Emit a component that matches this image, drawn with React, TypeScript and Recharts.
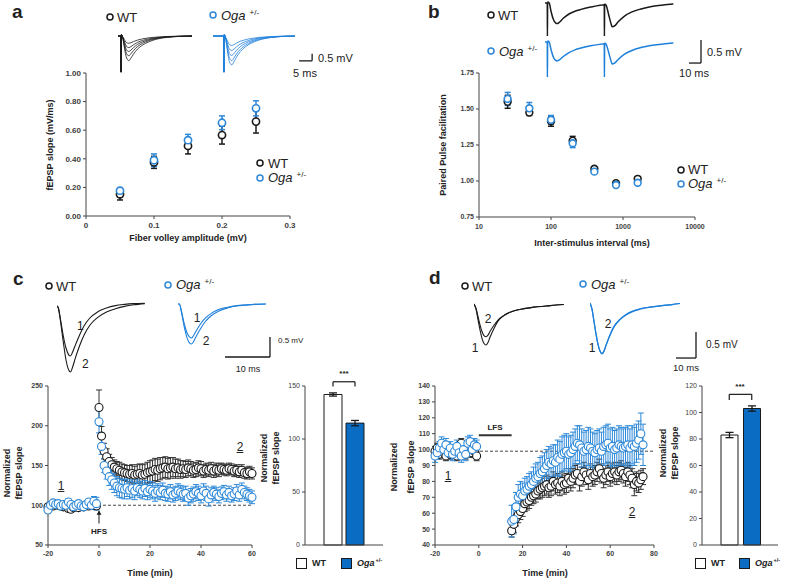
import React from 'react';
import {
  ScatterChart, Scatter, LineChart, Line, BarChart, Bar, Cell,
  XAxis, YAxis, ErrorBar, ReferenceLine,
} from 'recharts';

const FONT = '"Liberation Sans", Arial, sans-serif';
const BLACK = '#1a1a1a';
const BLUE = '#2d88d8';
const TRACE_BLUE = '#1f80da';
const BAR_BLUE = '#0b6cc3';
const AXIS = '#444';
const TICK = '#404040';
const TXT = '#222';

// ---------- Panel a: input/output ----------
const fvAmp = [0.05, 0.1, 0.15, 0.2, 0.25];
const slopeWT = [0.152, 0.375, 0.49, 0.566, 0.66];
const slopeWTErr = [0.04, 0.042, 0.056, 0.063, 0.08];
const slopeOga = [0.177, 0.39, 0.53, 0.652, 0.753];
const slopeOgaErr = [0.017, 0.044, 0.041, 0.048, 0.053];
const slopeXTicks = [0, 0.1, 0.2, 0.3];
const slopeYTicks = [0, 0.2, 0.4, 0.6, 0.8, 1.0];

// ---------- Panel b: paired pulse ----------
const isi = [25, 50, 100, 200, 400, 800, 1600];
const ppfWT = [1.55, 1.475, 1.415, 1.28, 1.085, 0.985, 1.015];
const ppfWTErr = [0.045, 0.02, 0.035, 0.03, 0.012, 0.01, 0.01];
const ppfOga = [1.57, 1.505, 1.425, 1.262, 1.065, 0.972, 0.988];
const ppfOgaErr = [0.045, 0.04, 0.03, 0.03, 0.012, 0.01, 0.01];
const isiTicks = [10, 100, 1000, 10000];
const ppfTicks = [0.75, 1.0, 1.25, 1.5, 1.75];

// ---------- Panel c: LTP ----------
const cBaseStart = -20;
const cPostStart = 0;
const cWTBase = [98, 100, 99, 101, 100, 99, 98, 100, 96, 95, 97, 98, 97, 99, 98, 100, 99, 101, 100, 99];
const cWTBaseErr = [3, 3, 3, 3, 3, 3, 3, 3, 3, 3, 3, 3, 3, 3, 3, 3, 3, 3, 3, 3];
const cOgaBase = [94, 100, 103, 101, 102, 99, 101, 100, 104, 101, 98, 100, 102, 99, 98, 101, 104, 100, 105, 102];
const cOgaBaseErr = [4, 4, 4, 4, 4, 4, 4, 4, 4, 4, 4, 4, 4, 4, 4, 4, 4, 5, 6, 8];
const cWTPost = [223, 187, 168, 161, 155, 151, 148, 146, 144, 142, 141, 140, 139, 140, 138, 139, 140, 138, 139, 141, 142, 143, 145, 144, 146, 147, 148, 146, 147, 148, 146, 147, 145, 146, 145, 147, 146, 144, 145, 147, 146, 143, 145, 144, 146, 143, 145, 144, 146, 145, 144, 146, 145, 143, 144, 142, 144, 141, 140, 142, 140];
const cWTPostErr = [22, 12, 10, 10, 9, 9, 9, 9, 10, 10, 10, 10, 11, 11, 11, 12, 12, 13, 13, 13, 14, 14, 14, 14, 14, 13, 13, 13, 13, 12, 12, 11, 11, 10, 10, 10, 9, 9, 9, 9, 9, 8, 8, 8, 8, 8, 8, 8, 7, 7, 7, 7, 7, 7, 7, 7, 7, 7, 7, 7, 7];
const cOgaPost = [205, 174, 150, 143, 136, 132, 128, 124, 122, 121, 120, 122, 119, 121, 118, 122, 120, 118, 121, 117, 120, 118, 115, 118, 116, 119, 115, 114, 117, 113, 115, 118, 116, 114, 115, 109, 112, 114, 117, 115, 112, 118, 115, 108, 113, 116, 114, 111, 115, 117, 113, 116, 112, 114, 118, 113, 120, 116, 114, 112, 110];
const cOgaPostErr = [14, 10, 9, 10, 11, 12, 12, 12, 12, 12, 12, 11, 11, 11, 11, 10, 10, 10, 10, 10, 10, 10, 10, 9, 9, 9, 9, 9, 9, 9, 9, 9, 9, 9, 9, 9, 9, 9, 9, 9, 9, 9, 9, 9, 9, 8, 8, 8, 8, 8, 8, 8, 8, 8, 8, 8, 8, 8, 8, 8, 8];
const cXTicks = [-20, 0, 20, 40, 60];
const cYTicks = [50, 100, 150, 200, 250];

// ---------- Panel d: LTD ----------
const dBaseStart = -20;
const dPostStart = 15;
const dWTBase = [99, 101, 97, 100, 98, 96, 100, 97, 99, 98, 96, 101, 104, 99, 97, 100, 103, 98, 99, 96];
const dWTBaseErr = [3, 3, 3, 3, 3, 3, 3, 3, 3, 3, 3, 3, 3, 3, 3, 3, 3, 3, 3, 3];
const dOgaBase = [96, 98, 101, 104, 100, 103, 98, 101, 97, 99, 102, 98, 96, 100, 97, 104, 105, 100, 103, 102];
const dOgaBaseErr = [4, 4, 4, 4, 4, 4, 4, 4, 4, 4, 4, 4, 4, 4, 4, 4, 4, 4, 4, 4];
const dWTPost = [49, 53, 57, 59, 61, 63, 66, 67, 68, 70, 71, 72, 74, 75, 76, 77, 78, 76, 77, 80, 78, 79, 77, 80, 78, 79, 82, 80, 82, 84, 85, 80, 83, 86, 84, 81, 85, 83, 84, 86, 88, 85, 82, 84, 86, 83, 85, 86, 84, 86, 87, 85, 83, 86, 84, 82, 78, 80, 79, 81, 83];
const dWTPostErr = [4, 5, 5, 5, 5, 5, 5, 5, 5, 5, 5, 5, 5, 6, 6, 6, 6, 6, 6, 6, 6, 6, 6, 6, 6, 6, 6, 6, 6, 6, 6, 6, 6, 6, 6, 6, 6, 6, 6, 6, 6, 6, 6, 6, 6, 6, 6, 6, 6, 6, 6, 6, 6, 6, 6, 6, 7, 6, 6, 6, 5];
const dOgaPost = [55, 56, 64, 70, 72, 71, 74, 75, 77, 78, 80, 82, 83, 85, 86, 88, 90, 92, 91, 93, 92, 95, 94, 97, 98, 99, 97, 98, 100, 102, 104, 103, 101, 99, 100, 102, 101, 99, 98, 100, 101, 99, 102, 103, 104, 101, 102, 100, 101, 103, 102, 101, 102, 103, 101, 103, 102, 104, 106, 110, 103];
const dOgaPostErr = [10, 9, 9, 8, 8, 8, 8, 8, 8, 8, 9, 9, 9, 10, 10, 10, 10, 10, 10, 10, 11, 11, 11, 11, 11, 11, 11, 11, 11, 11, 11, 12, 12, 12, 12, 12, 12, 12, 12, 12, 12, 12, 12, 12, 12, 12, 12, 12, 12, 12, 12, 12, 12, 12, 12, 12, 12, 12, 12, 13, 13];
const dXTicks = [-20, 0, 20, 40, 60, 80];
const dYTicks = [40, 50, 60, 70, 80, 90, 100, 110, 120, 130, 140];

// ---------- Bar summaries ----------
const groups = ['WT', 'Oga+/-'];
const barCVals = [142, 115];
const barCErr = [1.5, 2.5];
const barDVals = [83, 103];
const barDErr = [2, 2];
const barCTicks = [0, 50, 100, 150];
const barDTicks = [0, 20, 40, 60, 80, 100, 120];

// ---------- Example traces (ms, mV) ----------
const traceATime = [-3, 1.1, 1.2, 1.3, 1.8, 2.4, 3.0, 3.6, 4.2, 5.0, 6.0, 7.5, 9.5, 12, 15, 19, 23, 28.5];
const traceAWT = [
  [0, 0, -2.5, 0.1, -0.05, -0.22, -0.4, -0.48, -0.5, -0.46, -0.38, -0.28, -0.19, -0.12, -0.07, -0.03, -0.01, 0],
  [0, 0, -2.5, 0.1, -0.06, -0.34, -0.62, -0.77, -0.8, -0.73, -0.6, -0.44, -0.3, -0.19, -0.11, -0.05, -0.02, 0],
  [0, 0, -2.5, 0.1, -0.08, -0.46, -0.84, -1.03, -1.07, -0.97, -0.8, -0.58, -0.4, -0.25, -0.14, -0.06, -0.02, 0],
  [0, 0, -2.5, 0.1, -0.1, -0.6, -1.07, -1.31, -1.36, -1.22, -1.0, -0.73, -0.5, -0.31, -0.17, -0.07, -0.03, 0],
  [0, 0, -2.5, 0.1, -0.12, -0.74, -1.33, -1.63, -1.7, -1.52, -1.24, -0.9, -0.62, -0.39, -0.21, -0.09, -0.03, 0],
];
const traceAOga = [
  [0, 0, -2.5, 0.1, -0.06, -0.28, -0.51, -0.62, -0.65, -0.6, -0.49, -0.36, -0.25, -0.16, -0.09, -0.04, -0.01, 0],
  [0, 0, -2.5, 0.1, -0.08, -0.42, -0.78, -0.96, -1.0, -0.91, -0.75, -0.55, -0.38, -0.24, -0.13, -0.06, -0.02, 0],
  [0, 0, -2.5, 0.1, -0.1, -0.57, -1.04, -1.29, -1.35, -1.22, -1.0, -0.73, -0.5, -0.32, -0.17, -0.08, -0.03, 0],
  [0, 0, -2.5, 0.1, -0.12, -0.72, -1.31, -1.62, -1.7, -1.53, -1.25, -0.92, -0.63, -0.4, -0.22, -0.1, -0.03, 0],
  [0, 0, -2.5, 0.1, -0.14, -0.85, -1.55, -1.91, -2.0, -1.8, -1.47, -1.08, -0.74, -0.47, -0.26, -0.11, -0.04, 0],
];
const traceBTime = [0, 1.9, 2.0, 2.2, 3.5, 5, 7, 9, 10, 12, 15, 20, 25, 30, 38, 46, 49.4, 49.5, 49.7, 51, 53, 55, 56, 58, 61, 66, 72, 80, 90, 100, 107];
const traceBWT = [0, 0, -0.75, 0.02, 0, -0.18, -0.36, -0.44, -0.45, -0.42, -0.34, -0.24, -0.18, -0.14, -0.09, -0.05, -0.04, -0.75, -0.02, -0.05, -0.25, -0.45, -0.52, -0.5, -0.41, -0.29, -0.2, -0.13, -0.07, -0.04, -0.02];
const traceBOga = [0, 0, -0.8, 0.02, 0, -0.16, -0.33, -0.4, -0.41, -0.39, -0.32, -0.23, -0.17, -0.13, -0.08, -0.05, -0.04, -0.8, -0.02, -0.05, -0.22, -0.41, -0.48, -0.46, -0.38, -0.27, -0.19, -0.12, -0.07, -0.04, -0.02];
const traceCTime = [0, 0.3, 0.8, 1.4, 2.0, 2.6, 3.0, 3.4, 4.0, 5, 6, 7.3, 9, 11, 13, 15, 17, 19.5];
const traceCWT1 = [0.05, 0, -0.3, -0.7, -1.0, -1.17, -1.2, -1.12, -0.95, -0.68, -0.45, -0.25, -0.1, 0, 0.06, 0.09, 0.11, 0.12];
const traceCWT2 = [0.05, 0, -0.35, -0.85, -1.3, -1.55, -1.6, -1.5, -1.28, -0.95, -0.68, -0.43, -0.24, -0.1, -0.02, 0.04, 0.08, 0.11];
const traceCOga1 = [0, 0, -0.2, -0.5, -0.72, -0.83, -0.85, -0.8, -0.68, -0.5, -0.36, -0.24, -0.14, -0.08, -0.04, -0.02, -0.01, 0];
const traceCOga2 = [0, 0, -0.22, -0.58, -0.84, -0.98, -1.0, -0.95, -0.82, -0.62, -0.45, -0.3, -0.18, -0.1, -0.05, -0.03, -0.01, 0];
const traceDTime = [0, 1, 2, 3, 4, 5, 6, 7, 8, 10, 12, 15, 18, 21, 25, 30, 36, 41, 45];
const traceDWT1 = [0, -0.1, -0.3, -0.5, -0.66, -0.76, -0.79, -0.74, -0.64, -0.47, -0.33, -0.22, -0.16, -0.12, -0.09, -0.06, -0.04, -0.02, -0.01];
const traceDWT2 = [0, -0.08, -0.24, -0.4, -0.53, -0.61, -0.63, -0.6, -0.53, -0.41, -0.31, -0.22, -0.16, -0.12, -0.09, -0.06, -0.04, -0.02, -0.01];
const traceDOga1 = [0, -0.12, -0.36, -0.6, -0.8, -0.93, -0.98, -0.93, -0.82, -0.62, -0.46, -0.32, -0.23, -0.17, -0.12, -0.08, -0.05, -0.03, -0.01];
const traceDOga2 = [0, -0.12, -0.35, -0.59, -0.79, -0.92, -0.97, -0.92, -0.81, -0.61, -0.45, -0.31, -0.22, -0.16, -0.11, -0.08, -0.05, -0.03, -0.01];

// ---------- helpers ----------
const pts = (xs: number[], ys: number[], es: number[]) => xs.map((x, i) => ({ x, y: ys[i], e: es[i] }));
const timed = (start: number, vals: number[], errs: number[]) => vals.map((v, i) => ({ x: start + i, y: v, e: errs[i] }));
const trace = (ts: number[], vs: number[]) => ts.map((t, i) => ({ t, v: vs[i] }));

const aWT = pts(fvAmp, slopeWT, slopeWTErr);
const aOga = pts(fvAmp, slopeOga, slopeOgaErr);
const bWT = pts(isi, ppfWT, ppfWTErr);
const bOga = pts(isi, ppfOga, ppfOgaErr);
const cWT = [...timed(cBaseStart, cWTBase, cWTBaseErr), ...timed(cPostStart, cWTPost, cWTPostErr)];
const cOga = [...timed(cBaseStart, cOgaBase, cOgaBaseErr), ...timed(cPostStart, cOgaPost, cOgaPostErr)];
const dWT = [...timed(dBaseStart, dWTBase, dWTBaseErr), ...timed(dPostStart, dWTPost, dWTPostErr)];
const dOga = [...timed(dBaseStart, dOgaBase, dOgaBaseErr), ...timed(dPostStart, dOgaPost, dOgaPostErr)];
const barC = groups.map((g, i) => ({ g, v: barCVals[i], e: barCErr[i] }));
const barD = groups.map((g, i) => ({ g, v: barDVals[i], e: barDErr[i] }));

const tickStyle = (size: number, weight = 700) => ({ fontSize: size, fontWeight: weight, fill: TICK, fontFamily: FONT });

const ring = (color: string, r: number, sw: number) => (p: any) => (
  <circle cx={p.cx} cy={p.cy} r={r} fill="#fff" stroke={color} strokeWidth={sw} />
);

const Box = ({ left, top, children }: any) => (
  <div style={{ position: 'absolute', left, top }}>{children}</div>
);

const Txt = ({ x, y, size = 12, bold = false, italic = false, anchor = 'start', rotate = false, underline = false, color = TXT, children }: any) => {
  const tx = anchor === 'middle' ? '-50%' : anchor === 'end' ? '-100%' : '0';
  return (
    <div
      style={{
        position: 'absolute', left: x, top: y,
        transform: rotate ? 'translate(-50%, -50%) rotate(-90deg)' : `translate(${tx}, -50%)`,
        fontSize: size, fontWeight: bold ? 700 : 400, fontStyle: italic ? 'italic' : 'normal',
        textDecoration: underline ? 'underline' : 'none',
        lineHeight: 1, whiteSpace: 'nowrap', color, fontFamily: FONT,
      }}
    >
      {children}
    </div>
  );
};

const Ring = ({ x, y, color, r = 3 }: any) => (
  <svg style={{ position: 'absolute', left: x - r - 2, top: y - r - 2 }} width={2 * r + 4} height={2 * r + 4}>
    <circle cx={r + 2} cy={r + 2} r={r} fill="none" stroke={color} strokeWidth={1.5} />
  </svg>
);

const Oga = ({ x, y, size = 13, bold = false }: any) => (
  <div style={{ position: 'absolute', left: x, top: y, transform: 'translateY(-50%)', fontSize: size, lineHeight: 1, whiteSpace: 'nowrap', color: TXT, fontFamily: FONT, fontWeight: bold ? 700 : 400 }}>
    <span style={{ fontStyle: 'italic' }}>Oga</span>
    <span style={{ fontSize: size * 0.62, position: 'relative', top: -size * 0.42, marginLeft: bold ? 1 : 4 }}>+/-</span>
  </div>
);

const Square = ({ x, y, fill }: any) => (
  <div style={{ position: 'absolute', left: x, top: y, width: 9, height: 9, background: fill, border: `1px solid ${BLACK}` }} />
);

const TraceChart = ({ left, top, width, height, xDomain, yDomain, children }: any) => (
  <Box left={left} top={top}>
    <LineChart width={width} height={height} margin={{ top: 0, right: 0, bottom: 0, left: 0 }}>
      <XAxis type="number" dataKey="t" domain={xDomain} hide allowDataOverflow />
      <YAxis type="number" dataKey="v" domain={yDomain} hide allowDataOverflow />
      {children}
    </LineChart>
  </Box>
);

const tl = (data: any[], color: string, sw: number, key: string) => (
  <Line key={key} data={data} dataKey="v" type="monotone" stroke={color} strokeWidth={sw} dot={false} isAnimationActive={false} />
);

const scaleBar = (x0: number, x1: number, y0: number, y1: number) => [
  <ReferenceLine key="h" segment={[{ x: x0, y: y0 }, { x: x1, y: y0 }]} stroke={BLACK} strokeWidth={1.3} ifOverflow="visible" />,
  <ReferenceLine key="v" segment={[{ x: x1, y: y0 }, { x: x1, y: y1 }]} stroke={BLACK} strokeWidth={1.3} ifOverflow="visible" />,
];

const arrowShape = (p: any) => {
  const top = Math.min(p.y1, p.y2);
  const bot = Math.max(p.y1, p.y2);
  const x = p.x1;
  return (
    <g>
      <line x1={x} y1={bot} x2={x} y2={top} stroke={BLACK} strokeWidth={1} />
      <path d={`M${x - 2.5},${top + 4} L${x},${top} L${x + 2.5},${top + 4} Z`} fill={BLACK} />
    </g>
  );
};

export default function App() {
  return (
    <div style={{ position: 'absolute', left: 0, top: 0, width: 787, height: 581, background: '#fff', overflow: 'hidden', fontFamily: FONT }}>
      {/* ---------- Panel a traces ---------- */}
      <TraceChart left={118} top={30} width={74} height={45} xDomain={[0, 28.5]} yDomain={[-2.7, 0.42]}>
        {traceAWT.map((vs, i) => tl(trace(traceATime, vs), BLACK, 0.8, 'aw' + i))}
      </TraceChart>
      <TraceChart left={213} top={30} width={102} height={45} xDomain={[-3, 36.2]} yDomain={[-2.7, 0.42]}>
        {traceAOga.map((vs, i) => tl(trace(traceATime, vs), TRACE_BLUE, 0.8, 'ao' + i))}
        {scaleBar(30.1, 35.1, -1.72, -1.22)}
      </TraceChart>

      {/* ---------- Panel a chart ---------- */}
      <Box left={40} top={60}>
        <ScatterChart width={260} height={186} margin={{ top: 13, right: 10, bottom: 0, left: 0 }}>
          <XAxis type="number" dataKey="x" domain={[0, 0.3]} ticks={slopeXTicks} tick={tickStyle(8)} tickLine={{ stroke: AXIS }} axisLine={{ stroke: AXIS }} tickSize={3} tickMargin={3} height={30} />
          <YAxis type="number" dataKey="y" domain={[0, 1]} ticks={slopeYTicks} tickFormatter={(v: number) => v.toFixed(2)} tick={tickStyle(8)} tickLine={{ stroke: AXIS }} axisLine={{ stroke: AXIS }} tickSize={3} width={46} />
          <Scatter data={aWT} shape={ring(BLACK, 3.6, 1.6)} isAnimationActive={false}>
            <ErrorBar dataKey="e" direction="y" width={3} stroke={BLACK} strokeWidth={1.5} />
          </Scatter>
          <Scatter data={aOga} shape={ring(BLUE, 3.6, 1.6)} isAnimationActive={false}>
            <ErrorBar dataKey="e" direction="y" width={3} stroke={BLUE} strokeWidth={1.5} />
          </Scatter>
        </ScatterChart>
      </Box>

      {/* ---------- Panel b traces ---------- */}
      <TraceChart left={545} top={0} width={158} height={36} xDomain={[0, 131.67]} yDomain={[-0.72, 0.065]}>
        {tl(trace(traceBTime, traceBWT), BLACK, 1.5, 'bw')}
      </TraceChart>
      <TraceChart left={545} top={38} width={158} height={39} xDomain={[0, 131.67]} yDomain={[-0.76, 0.087]}>
        {tl(trace(traceBTime, traceBOga), TRACE_BLUE, 1.5, 'bo')}
        {scaleBar(120, 130, -0.457, 0.043)}
      </TraceChart>

      {/* ---------- Panel b chart ---------- */}
      <Box left={433} top={60}>
        <ScatterChart width={272} height={187} margin={{ top: 13, right: 10, bottom: 0, left: 0 }}>
          <XAxis type="number" dataKey="x" scale="log" domain={[10, 10000]} ticks={isiTicks} allowDataOverflow tick={tickStyle(7)} tickLine={{ stroke: AXIS }} axisLine={{ stroke: AXIS }} tickSize={3} tickMargin={4} height={30} />
          <YAxis type="number" dataKey="y" domain={[0.75, 1.75]} ticks={ppfTicks} tickFormatter={(v: number) => v.toFixed(2)} tick={tickStyle(7)} tickLine={{ stroke: AXIS }} axisLine={{ stroke: AXIS }} tickSize={3} width={46} />
          <Scatter data={bWT} shape={ring(BLACK, 3.4, 1.6)} isAnimationActive={false}>
            <ErrorBar dataKey="e" direction="y" width={3} stroke={BLACK} strokeWidth={1.5} />
          </Scatter>
          <Scatter data={bOga} shape={ring(BLUE, 3.4, 1.6)} isAnimationActive={false}>
            <ErrorBar dataKey="e" direction="y" width={3} stroke={BLUE} strokeWidth={1.5} />
          </Scatter>
        </ScatterChart>
      </Box>

      {/* ---------- Panel c traces ---------- */}
      <TraceChart left={57} top={300} width={88} height={80} xDomain={[0, 19.56]} yDomain={[-1.8, 0.2]}>
        {tl(trace(traceCTime, traceCWT1), BLACK, 1.1, 'cw1')}
        {tl(trace(traceCTime, traceCWT2), BLACK, 1.1, 'cw2')}
      </TraceChart>
      <TraceChart left={178} top={300} width={94} height={80} xDomain={[0, 20.89]} yDomain={[-1.9, 0.1]}>
        {tl(trace(traceCTime, traceCOga1), TRACE_BLUE, 1.1, 'co1')}
        {tl(trace(traceCTime, traceCOga2), TRACE_BLUE, 1.1, 'co2')}
        {scaleBar(10.44, 20.44, -1.325, -0.825)}
      </TraceChart>

      {/* ---------- Panel c LTP ---------- */}
      <Box left={20} top={376}>
        <ScatterChart width={240} height={194} margin={{ top: 10, right: 8, bottom: 0, left: 0 }}>
          <XAxis type="number" dataKey="x" domain={[-20, 60]} ticks={cXTicks} tick={tickStyle(7)} tickLine={{ stroke: AXIS }} axisLine={{ stroke: AXIS }} tickSize={3} tickMargin={3} height={25} />
          <YAxis type="number" dataKey="y" domain={[50, 250]} ticks={cYTicks} tick={tickStyle(7)} tickLine={{ stroke: AXIS }} axisLine={{ stroke: AXIS }} tickSize={3} width={28} />
          <ReferenceLine y={100} stroke="#333" strokeDasharray="3 2" strokeWidth={0.9} />
          <Scatter data={cWT} shape={ring(BLACK, 4, 1.1)} isAnimationActive={false}>
            <ErrorBar dataKey="e" direction="y" width={3} stroke="#333" strokeWidth={1} />
          </Scatter>
          <Scatter data={cOga} shape={ring(BLUE, 4, 1.1)} isAnimationActive={false}>
            <ErrorBar dataKey="e" direction="y" width={3} stroke={BLUE} strokeWidth={1} />
          </Scatter>
          <ReferenceLine segment={[{ x: 0, y: 77 }, { x: 0, y: 93 }]} ifOverflow="visible" shape={arrowShape} />
        </ScatterChart>
      </Box>

      {/* ---------- Panel c bars ---------- */}
      <Box left={280} top={366}>
        <BarChart width={107} height={189} data={barC} margin={{ top: 20, right: 4, bottom: 0, left: 0 }}>
          <XAxis dataKey="g" tick={false} tickLine={false} axisLine={{ stroke: AXIS }} height={10} padding={{ left: 17, right: 17 }} />
          <YAxis type="number" domain={[0, 150]} ticks={barCTicks} tick={tickStyle(7, 400)} tickLine={{ stroke: AXIS }} axisLine={{ stroke: AXIS }} tickSize={3} width={25} />
          <Bar dataKey="v" barSize={18} stroke={BLACK} strokeWidth={1} isAnimationActive={false}>
            <Cell fill="#ffffff" />
            <Cell fill={BAR_BLUE} />
            <ErrorBar dataKey="e" width={4} stroke={BLACK} strokeWidth={1.3} />
          </Bar>
          <ReferenceLine segment={[{ x: 'WT', y: 149.5 }, { x: 'WT', y: 154 }]} stroke={BLACK} strokeWidth={1.2} ifOverflow="visible" />
          <ReferenceLine segment={[{ x: 'WT', y: 154 }, { x: 'Oga+/-', y: 154 }]} stroke={BLACK} strokeWidth={1.2} ifOverflow="visible" />
          <ReferenceLine segment={[{ x: 'Oga+/-', y: 154 }, { x: 'Oga+/-', y: 149.5 }]} stroke={BLACK} strokeWidth={1.2} ifOverflow="visible" />
        </BarChart>
      </Box>

      {/* ---------- Panel d traces ---------- */}
      <TraceChart left={474} top={298} width={92} height={62} xDomain={[0, 46]} yDomain={[-1.077, 0.115]}>
        {tl(trace(traceDTime, traceDWT1), BLACK, 1.1, 'dw1')}
        {tl(trace(traceDTime, traceDWT2), BLACK, 1.1, 'dw2')}
      </TraceChart>
      <TraceChart left={590} top={298} width={108} height={62} xDomain={[0, 54]} yDomain={[-1.096, 0.096]}>
        {tl(trace(traceDTime, traceDOga1), TRACE_BLUE, 1.2, 'do1')}
        {tl(trace(traceDTime, traceDOga2), TRACE_BLUE, 1.2, 'do2')}
        {scaleBar(43, 53, -1.058, -0.558)}
      </TraceChart>

      {/* ---------- Panel d LTD ---------- */}
      <Box left={405} top={376}>
        <ScatterChart width={257} height={194} margin={{ top: 10, right: 8, bottom: 0, left: 0 }}>
          <XAxis type="number" dataKey="x" domain={[-20, 80]} ticks={dXTicks} tick={tickStyle(7)} tickLine={{ stroke: AXIS }} axisLine={{ stroke: AXIS }} tickSize={3} tickMargin={3} height={25} />
          <YAxis type="number" dataKey="y" domain={[40, 140]} ticks={dYTicks} tick={tickStyle(7)} tickLine={{ stroke: AXIS }} axisLine={{ stroke: AXIS }} tickSize={3} width={30} />
          <ReferenceLine y={99} stroke="#333" strokeDasharray="3 2" strokeWidth={0.9} />
          <ReferenceLine segment={[{ x: 0, y: 109 }, { x: 15, y: 109 }]} stroke="#333" strokeWidth={2} />
          <Scatter data={dWT} shape={ring(BLACK, 4, 1.1)} isAnimationActive={false}>
            <ErrorBar dataKey="e" direction="y" width={3} stroke="#333" strokeWidth={1} />
          </Scatter>
          <Scatter data={dOga} shape={ring(BLUE, 4, 1.1)} isAnimationActive={false}>
            <ErrorBar dataKey="e" direction="y" width={3} stroke={BLUE} strokeWidth={1} />
          </Scatter>
        </ScatterChart>
      </Box>

      {/* ---------- Panel d bars ---------- */}
      <Box left={677} top={366}>
        <BarChart width={105} height={189} data={barD} margin={{ top: 20, right: 4, bottom: 0, left: 0 }}>
          <XAxis dataKey="g" tick={false} tickLine={false} axisLine={{ stroke: AXIS }} height={10} padding={{ left: 16, right: 15 }} />
          <YAxis type="number" domain={[0, 120]} ticks={barDTicks} tick={tickStyle(7, 400)} tickLine={{ stroke: AXIS }} axisLine={{ stroke: AXIS }} tickSize={3} width={25} />
          <Bar dataKey="v" barSize={17} stroke={BLACK} strokeWidth={1} isAnimationActive={false}>
            <Cell fill="#ffffff" />
            <Cell fill={BAR_BLUE} />
            <ErrorBar dataKey="e" width={4} stroke={BLACK} strokeWidth={1.3} />
          </Bar>
          <ReferenceLine segment={[{ x: 'WT', y: 109.4 }, { x: 'WT', y: 113.7 }]} stroke={BLACK} strokeWidth={1.2} ifOverflow="visible" />
          <ReferenceLine segment={[{ x: 'WT', y: 113.7 }, { x: 'Oga+/-', y: 113.7 }]} stroke={BLACK} strokeWidth={1.2} ifOverflow="visible" />
          <ReferenceLine segment={[{ x: 'Oga+/-', y: 113.7 }, { x: 'Oga+/-', y: 109.4 }]} stroke={BLACK} strokeWidth={1.2} ifOverflow="visible" />
        </BarChart>
      </Box>

      {/* ---------- Text overlays ---------- */}
      {/* panel letters */}
      <Txt x={12} y={11} size={19} bold>a</Txt>
      <Txt x={428} y={11} size={19} bold>b</Txt>
      <Txt x={13} y={278} size={19} bold>c</Txt>
      <Txt x={429} y={277} size={19} bold>d</Txt>

      {/* panel a */}
      <Ring x={110} y={17} color={BLACK} />
      <Txt x={117} y={17} size={13}>WT</Txt>
      <Ring x={213} y={15} color={BLUE} />
      <Oga x={221} y={16} size={13} />
      <Txt x={318} y={58} size={11}>0.5 mV</Txt>
      <Txt x={305} y={73} size={11} anchor="middle">5 ms</Txt>
      <Ring x={260} y={163} color={BLACK} />
      <Txt x={268} y={163} size={13}>WT</Txt>
      <Ring x={260} y={178} color={BLUE} />
      <Oga x={268} y={178} size={13} />
      <Txt x={188} y={238} size={9} bold anchor="middle">Fiber volley amplitude (mV)</Txt>
      <Txt x={50} y={145} size={9} bold rotate>fEPSP slope (mV/ms)</Txt>

      {/* panel b */}
      <Ring x={491} y={15} color={BLACK} />
      <Txt x={498} y={15} size={13}>WT</Txt>
      <Ring x={491} y={51} color={BLUE} />
      <Oga x={499} y={52} size={13} />
      <Txt x={707} y={52} size={11}>0.5 mV</Txt>
      <Txt x={694} y={73} size={11} anchor="middle">10 ms</Txt>
      <Ring x={681} y={170} color={BLACK} />
      <Txt x={688} y={169} size={13}>WT</Txt>
      <Ring x={681} y={184} color={BLUE} />
      <Oga x={688} y={184} size={13} />
      <Txt x={592} y={243} size={9} bold anchor="middle">Inter-stimulus interval (ms)</Txt>
      <Txt x={443} y={145} size={9} bold rotate>Paired Pulse facilitation</Txt>

      {/* panel c */}
      <Ring x={49} y={286} color={BLACK} />
      <Txt x={56} y={286} size={13}>WT</Txt>
      <Ring x={168} y={285} color={BLUE} />
      <Oga x={176} y={285} size={13} />
      <Txt x={77} y={326} size={12}>1</Txt>
      <Txt x={82} y={364} size={12}>2</Txt>
      <Txt x={197} y={318} size={12} anchor="middle">1</Txt>
      <Txt x={206} y={341} size={12} anchor="middle">2</Txt>
      <Txt x={278} y={341} size={8}>0.5 mV</Txt>
      <Txt x={248} y={369} size={9} anchor="middle">10 ms</Txt>
      <Txt x={61} y={486} size={12} anchor="middle" underline>1</Txt>
      <Txt x={240} y={447} size={12} anchor="middle" underline>2</Txt>
      <Txt x={99} y={532} size={8} bold anchor="middle">HFS</Txt>
      <Txt x={150} y={573} size={9} bold anchor="middle">Time (min)</Txt>
      <Txt x={7} y={473} size={9} bold rotate>Normalized</Txt>
      <Txt x={19} y={473} size={9} bold rotate>fEPSP slope</Txt>
      <Txt x={344} y={374} size={8} bold anchor="middle">***</Txt>
      <Txt x={264} y={458} size={9} bold rotate>Normalized</Txt>
      <Txt x={276} y={458} size={9} bold rotate>fEPSP slope</Txt>
      <Square x={296} y={558} fill="#fff" />
      <Txt x={312} y={563} size={9} bold>WT</Txt>
      <Square x={341} y={558} fill={BAR_BLUE} />
      <Oga x={357} y={563} size={9} bold />

      {/* panel d */}
      <Ring x={465} y={286} color={BLACK} />
      <Txt x={472} y={286} size={13}>WT</Txt>
      <Ring x={583} y={284} color={BLUE} />
      <Oga x={591} y={285} size={13} />
      <Txt x={488} y={319} size={12} anchor="middle">2</Txt>
      <Txt x={475} y={348} size={12} anchor="middle">1</Txt>
      <Txt x={608} y={324} size={12} anchor="middle">2</Txt>
      <Txt x={592} y={348} size={12} anchor="middle">1</Txt>
      <Txt x={706} y={345} size={10}>0.5 mV</Txt>
      <Txt x={686} y={368} size={9.5} anchor="middle">10 ms</Txt>
      <Txt x={448} y={476} size={12} anchor="middle" underline>1</Txt>
      <Txt x={632} y={512} size={12} anchor="middle" underline>2</Txt>
      <Txt x={495} y={428} size={8} bold anchor="middle">LFS</Txt>
      <Txt x={545} y={573} size={9} bold anchor="middle">Time (min)</Txt>
      <Txt x={394} y={467} size={9} bold rotate>Normalized</Txt>
      <Txt x={411} y={467} size={9} bold rotate>fEPSP slope</Txt>
      <Txt x={740} y={387} size={8} bold anchor="middle">***</Txt>
      <Txt x={663} y={453} size={9} bold rotate>Normalized</Txt>
      <Txt x={675} y={453} size={9} bold rotate>fEPSP slope</Txt>
      <Square x={695} y={558} fill="#fff" />
      <Txt x={711} y={563} size={9} bold>WT</Txt>
      <Square x={739} y={558} fill={BAR_BLUE} />
      <Oga x={755} y={563} size={9} bold />
    </div>
  );
}
